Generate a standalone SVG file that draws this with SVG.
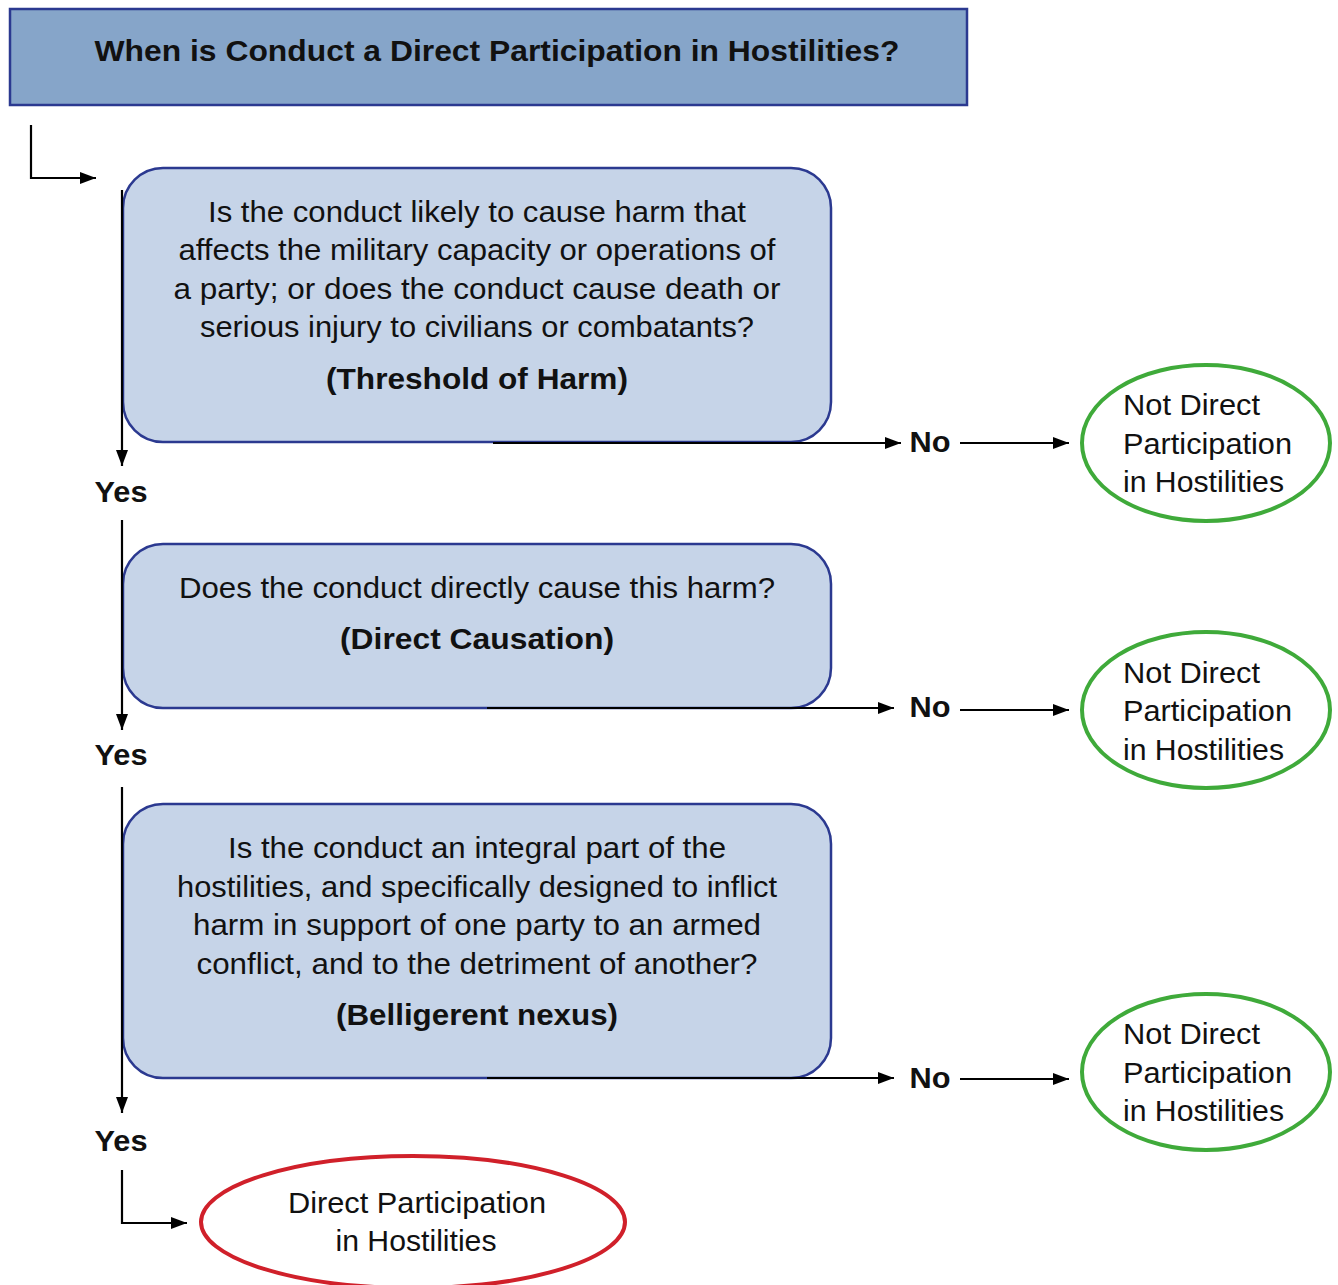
<svg xmlns="http://www.w3.org/2000/svg" width="1338" height="1285" viewBox="0 0 1338 1285">
<defs>
<marker id="ah" markerWidth="16" markerHeight="12" refX="16" refY="6" orient="auto" markerUnits="userSpaceOnUse">
<path d="M0,0 L16,6 L0,12 Z" fill="#000"/>
</marker>
<style>
.title{fill:#86a5c9;stroke:#2b3990;stroke-width:2.5}
.box{fill:#c6d4e8;stroke:#2b3990;stroke-width:2.5}
.green{fill:#fff;stroke:#3faa3a;stroke-width:4}
.red{fill:#fff;stroke:#d0202a;stroke-width:4}
.t{font-family:"Liberation Sans",Arial,sans-serif;font-size:29px;fill:#111}
.c{text-anchor:middle}
.b{font-weight:bold}
.conn{fill:none;stroke:#000;stroke-width:2.2}
</style>
</defs>
<g id="title">
<rect class="title" x="10" y="9" width="957" height="96"/>
<text class="t b c" x="497" y="61" font-size="27" textLength="805" lengthAdjust="spacingAndGlyphs">When is Conduct a Direct Participation in Hostilities?</text>
</g>
<g id="q1">
<rect class="box" x="123" y="168" width="708" height="274" rx="40"/>
<text class="t c" x="477" y="222" textLength="538" lengthAdjust="spacingAndGlyphs">Is the conduct likely to cause harm that</text>
<text class="t c" x="477" y="260" textLength="597" lengthAdjust="spacingAndGlyphs">affects the military capacity or operations of</text>
<text class="t c" x="477" y="299" textLength="607" lengthAdjust="spacingAndGlyphs">a party; or does the conduct cause death or</text>
<text class="t c" x="477" y="337" textLength="554" lengthAdjust="spacingAndGlyphs">serious injury to civilians or combatants?</text>
<text class="t b c" x="477" y="389" textLength="302" lengthAdjust="spacingAndGlyphs">(Threshold of Harm)</text>
</g>
<g id="q2">
<rect class="box" x="123" y="544" width="708" height="164" rx="40"/>
<text class="t c" x="477" y="598" textLength="596" lengthAdjust="spacingAndGlyphs">Does the conduct directly cause this harm?</text>
<text class="t b c" x="477" y="649" textLength="274" lengthAdjust="spacingAndGlyphs">(Direct Causation)</text>
</g>
<g id="q3">
<rect class="box" x="123" y="804" width="708" height="274" rx="40"/>
<text class="t c" x="477" y="858" textLength="498" lengthAdjust="spacingAndGlyphs">Is the conduct an integral part of the</text>
<text class="t c" x="477" y="897" textLength="600" lengthAdjust="spacingAndGlyphs">hostilities, and specifically designed to inflict</text>
<text class="t c" x="477" y="935" textLength="568" lengthAdjust="spacingAndGlyphs">harm in support of one party to an armed</text>
<text class="t c" x="477" y="974" textLength="561" lengthAdjust="spacingAndGlyphs">conflict, and to the detriment of another?</text>
<text class="t b c" x="477" y="1025" textLength="282" lengthAdjust="spacingAndGlyphs">(Belligerent nexus)</text>
</g>
<g id="not1">
<ellipse class="green" cx="1206" cy="443" rx="124" ry="78"/>
<text class="t" x="1123" y="415" textLength="137" lengthAdjust="spacingAndGlyphs">Not Direct</text>
<text class="t" x="1123" y="454" textLength="169" lengthAdjust="spacingAndGlyphs">Participation</text>
<text class="t" x="1123" y="492" textLength="161" lengthAdjust="spacingAndGlyphs">in Hostilities</text>
</g>
<g id="not2">
<ellipse class="green" cx="1206" cy="710" rx="124" ry="78"/>
<text class="t" x="1123" y="683" textLength="137" lengthAdjust="spacingAndGlyphs">Not Direct</text>
<text class="t" x="1123" y="721" textLength="169" lengthAdjust="spacingAndGlyphs">Participation</text>
<text class="t" x="1123" y="760" textLength="161" lengthAdjust="spacingAndGlyphs">in Hostilities</text>
</g>
<g id="not3">
<ellipse class="green" cx="1206" cy="1072" rx="124" ry="78"/>
<text class="t" x="1123" y="1044" textLength="137" lengthAdjust="spacingAndGlyphs">Not Direct</text>
<text class="t" x="1123" y="1083" textLength="169" lengthAdjust="spacingAndGlyphs">Participation</text>
<text class="t" x="1123" y="1121" textLength="161" lengthAdjust="spacingAndGlyphs">in Hostilities</text>
</g>
<g id="dph">
<ellipse class="red" cx="413" cy="1222" rx="212" ry="66"/>
<text class="t c" x="417" y="1213" textLength="258" lengthAdjust="spacingAndGlyphs">Direct Participation</text>
<text class="t c" x="416" y="1251" textLength="161" lengthAdjust="spacingAndGlyphs">in Hostilities</text>
</g>
<g id="labels">
<text class="t b c" x="121" y="502" textLength="53" lengthAdjust="spacingAndGlyphs">Yes</text>
<text class="t b c" x="121" y="765" textLength="53" lengthAdjust="spacingAndGlyphs">Yes</text>
<text class="t b c" x="121" y="1151" textLength="53" lengthAdjust="spacingAndGlyphs">Yes</text>
<text class="t b c" x="930" y="452" textLength="41" lengthAdjust="spacingAndGlyphs">No</text>
<text class="t b c" x="930" y="717" textLength="41" lengthAdjust="spacingAndGlyphs">No</text>
<text class="t b c" x="930" y="1088" textLength="41" lengthAdjust="spacingAndGlyphs">No</text>
</g>
<g id="connectors">
<path class="conn" d="M31,125 V178 H96" marker-end="url(#ah)"/>
<path class="conn" d="M122,190 V466" marker-end="url(#ah)"/>
<path class="conn" d="M122,520 V730" marker-end="url(#ah)"/>
<path class="conn" d="M122,787 V1113" marker-end="url(#ah)"/>
<path class="conn" d="M122,1170 V1223 H187" marker-end="url(#ah)"/>
<path class="conn" d="M493,443 H901" marker-end="url(#ah)"/>
<path class="conn" d="M960,443 H1069" marker-end="url(#ah)"/>
<path class="conn" d="M487,708 H894" marker-end="url(#ah)"/>
<path class="conn" d="M960,710 H1069" marker-end="url(#ah)"/>
<path class="conn" d="M487,1078 H894" marker-end="url(#ah)"/>
<path class="conn" d="M960,1079 H1069" marker-end="url(#ah)"/>
</g>
</svg>
